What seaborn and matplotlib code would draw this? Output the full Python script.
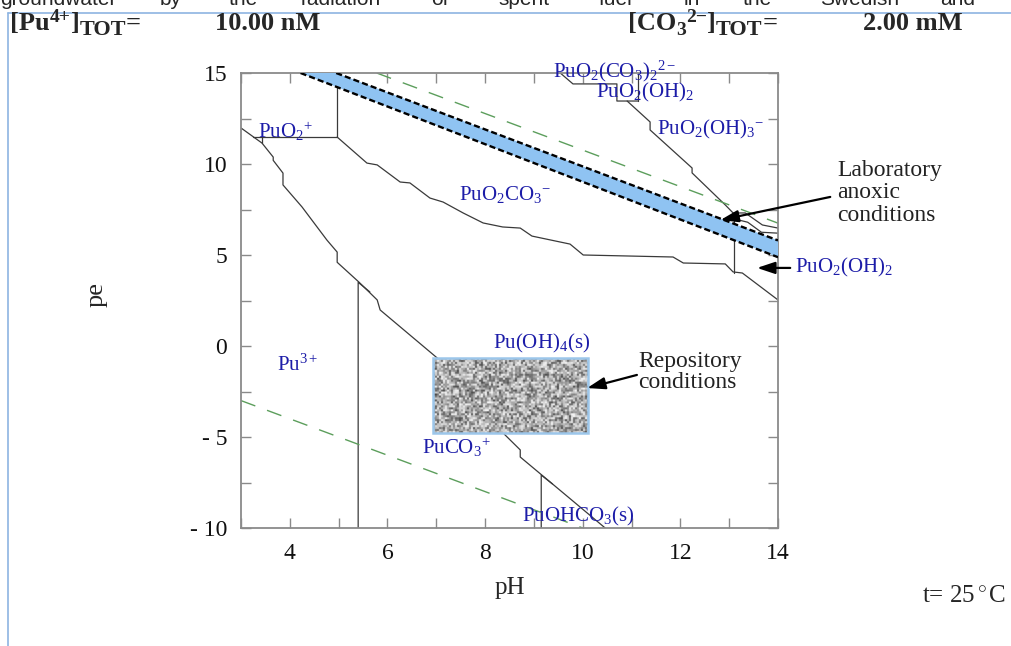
import numpy as np
import matplotlib
matplotlib.use("Agg")
import matplotlib.pyplot as plt
import seaborn as sns
from matplotlib.patches import Rectangle
from matplotlib.lines import Line2D
from matplotlib.ticker import FixedLocator

# ------------------------------------------------------------------ data
# predominance boundaries (pH, pe)
pu3_ph = [3.0, 3.43, 3.66, 3.66, 3.86, 3.86, 4.25, 4.76, 4.97, 4.97, 5.42, 5.79, 5.85, 7.02, 8.41, 8.72, 8.72, 10.46]
pu3_pe = [11.98, 11.15, 10.38, 10.2, 9.5, 8.85, 7.64, 5.82, 5.16, 4.6, 3.5, 2.53, 1.98, -0.66, -4.89, -5.71, -6.1, -10.0]

puo2p_ph = [3.25, 4.97, 4.97]
puo2p_pe = [11.48, 11.48, 15.0]
puo2p_tick_ph = [3.43, 3.43]
puo2p_tick_pe = [11.48, 11.15]

carb_ph = [4.97, 5.58, 5.79, 6.26, 6.46, 6.87, 7.14, 7.55, 7.96, 8.36, 8.72, 8.96, 9.74, 10.01,
           11.85, 12.06, 12.92, 13.08, 13.27, 14.0]
carb_pe = [11.48, 10.05, 9.95, 9.01, 8.96, 8.13, 7.91, 7.31, 6.76, 6.54, 6.48, 6.04, 5.6, 5.0,
           4.89, 4.56, 4.51, 4.07, 4.01, 2.53]

dicarb_ph = [9.54, 9.80, 10.70, 10.70, 11.14]
dicarb_pe = [15.0, 14.4, 14.4, 13.46, 13.46]
hyd2_ph = [11.14, 11.14]
hyd2_pe = [15.0, 13.46]
hyd3_ph = [10.91, 11.38, 11.38, 12.24, 12.24, 12.92, 13.08, 13.33, 13.68, 14.0]
hyd3_pe = [13.46, 12.31, 11.87, 9.78, 9.51, 7.75, 7.31, 7.31, 6.65, 6.48]
hyd3b_ph = [13.08, 13.38, 13.66, 14.0]
hyd3b_pe = [7.0, 6.8, 6.25, 6.2]
vert13_ph = [13.1, 13.1]
vert13_pe = [7.31, 4.01]

pu3c_ph = [5.40, 5.40, 5.64]
pu3c_pe = [-10.0, 3.5, 2.97]
puoh_ph = [9.15, 9.15, 9.38]
puoh_pe = [-10.0, -7.09, -7.58]

# water stability limits
o2_ph = [5.78, 14.0]
o2_pe = [15.0, 6.75]
h2_ph = [3.0, 10.0]
h2_pe = [-3.0, -10.0]

# laboratory anoxic band
band_up_ph = [4.95, 14.0]
band_up_pe = [15.0, 5.8]
band_lo_ph = [4.22, 14.0]
band_lo_pe = [15.0, 4.88]

# repository conditions box
repo_ph = [6.93, 10.11]
repo_pe = [-4.78, -0.66]

species = [r"PuO$_2$$^{+}$", r"PuO$_2$CO$_3$$^{-}$", r"PuO$_2$(CO$_3$)$_2$$^{2-}$", r"PuO$_2$(OH)$_2$",
           r"PuO$_2$(OH)$_3$$^{-}$", r"Pu(OH)$_4$(s)", r"Pu$^{3+}$", r"PuCO$_3$$^{+}$", r"PuOHCO$_3$(s)"]
species_ph = [3.90, 8.41, 10.66, 11.28, 12.61, 9.15, 4.15, 7.41, 9.91]
species_pe = [11.8, 8.3, 15.08, 13.92, 11.87, 0.16, -1.04, -5.6, -9.34]

x_ticks = [4, 6, 8, 10, 12, 14]
x_ticklabels = ["4", "6", "8", "10", "12", "14"]
y_ticks = [15, 10, 5, 0, -5, -10]
y_ticklabels = ["15", "10", "5", "0", "- 5", "- 10"]

header_words = ["groundwater", "by", "the", "radiation", "of", "spent", "fuel", "in", "the", "Swedish", "and"]
header_x = [0, 160, 229, 301, 431, 498, 599, 684, 743, 820, 940]

# ------------------------------------------------------------------ style
sns.set_theme(style="white")
plt.rcParams["font.family"] = ["Liberation Serif", "DejaVu Serif"]
plt.rcParams["mathtext.fontset"] = "custom"
plt.rcParams["mathtext.rm"] = "Liberation Serif"
plt.rcParams["mathtext.it"] = "Liberation Serif:italic"
plt.rcParams["mathtext.bf"] = "Liberation Serif:bold"

W, H = 1011, 646
fig = plt.figure(figsize=(W / 100, H / 100), dpi=100)
fig.patch.set_facecolor("white")
renderer = fig.canvas.get_renderer()

def fx(px):
    return px / W

def fy(py):
    return 1 - py / H

ax = fig.add_axes([fx(241), fy(528), fx(778) - fx(241), fy(73) - fy(528)])
ax.set_facecolor("white")

line_col = "#3a3a3a"
def boundary(xs, ys, **kw):
    sns.lineplot(x=xs, y=ys, sort=False, estimator=None, ax=ax, legend=False, **kw)

for xs, ys in [(pu3_ph, pu3_pe), (puo2p_ph, puo2p_pe), (puo2p_tick_ph, puo2p_tick_pe),
               (carb_ph, carb_pe), (dicarb_ph, dicarb_pe), (hyd2_ph, hyd2_pe), (hyd3_ph, hyd3_pe),
               (hyd3b_ph, hyd3b_pe), (vert13_ph, vert13_pe), (pu3c_ph, pu3c_pe), (puoh_ph, puoh_pe)]:
    boundary(xs, ys, color=line_col, linewidth=0.9, zorder=2)

green = "#5c9e5c"
boundary(o2_ph, o2_pe, color=green, linewidth=1.0, linestyle=(0, (11, 9)), zorder=2)
boundary(h2_ph, h2_pe, color=green, linewidth=1.0, linestyle=(0, (11, 9)), zorder=2)

# band
ax.fill([band_lo_ph[0], band_up_ph[0], band_up_ph[1], band_lo_ph[1]],
        [band_lo_pe[0], band_up_pe[0], band_up_pe[1], band_lo_pe[1]],
        color="#8fc3f2", zorder=3, linewidth=0)
boundary(band_up_ph, band_up_pe, color="black", linewidth=1.7, linestyle=(0, (2.6, 1.3)), zorder=4)
boundary(band_lo_ph, band_lo_pe, color="black", linewidth=1.7, linestyle=(0, (2.6, 1.3)), zorder=4)

# repository texture box (decorative grain)
ny, nx = 38, 78
ii, jj = np.mgrid[0:ny, 0:nx]
k = (ii * nx + jj).astype(np.uint64) + np.uint64(12345)
k = (k * np.uint64(2654435761)) % np.uint64(2 ** 32)
k ^= k >> np.uint64(13)
k = (k * np.uint64(0x5BD1E995)) % np.uint64(2 ** 32)
k ^= k >> np.uint64(15)
tex = (k % np.uint64(1000)).astype(float) / 1000.0
tex = 0.30 + 0.66 * tex ** 0.8
ax.imshow(tex, cmap="gray", vmin=0, vmax=1, extent=[repo_ph[0], repo_ph[1], repo_pe[0], repo_pe[1]],
          aspect="auto", interpolation="antialiased", zorder=5)
ax.add_patch(Rectangle((repo_ph[0], repo_pe[0]), repo_ph[1] - repo_ph[0], repo_pe[1] - repo_pe[0],
                       fill=False, edgecolor="#9cc6ea", linewidth=1.8, zorder=6))

# species labels
blue = "#1c1ca8"
for s, x, y in zip(species, species_ph, species_pe):
    ax.text(x, y, s, color=blue, fontsize=15, ha="center", va="center", zorder=7, clip_on=False)
ax.text(14.35, 4.29, r"PuO$_2$(OH)$_2$", color=blue, fontsize=15, ha="left", va="center", clip_on=False)

# annotations
arrow = dict(arrowstyle="-|>,head_length=0.9,head_width=0.3", color="black", lw=1.6, shrinkA=0, shrinkB=0)
ax.annotate("", xy=(12.82, 6.92), xytext=(15.07, 8.19), arrowprops=arrow, annotation_clip=False, zorder=8)
ax.annotate("", xy=(10.09, -2.31), xytext=(11.11, -1.59), arrowprops=arrow, annotation_clip=False, zorder=8)
ax.annotate("", xy=(13.57, 4.29), xytext=(14.25, 4.29), arrowprops=arrow, annotation_clip=False, zorder=8)
fig.text(fx(837), fy(193), "Laboratory\nanoxic\nconditions", fontsize=17, ha="left", va="center",
         linespacing=1.12, color="#222222")
fig.text(fx(638), fy(372), "Repository\nconditions", fontsize=17, ha="left", va="center",
         linespacing=1.0, color="#222222")

# axes
ax.set_xlim(3, 14)
ax.set_ylim(-10, 15)
ax.xaxis.set_major_locator(FixedLocator(x_ticks))
ax.xaxis.set_minor_locator(FixedLocator(list(range(3, 15))))
ax.yaxis.set_major_locator(FixedLocator(y_ticks))
ax.yaxis.set_minor_locator(FixedLocator([12.5, 7.5, 2.5, -2.5, -7.5]))
ax.set_xticklabels(x_ticklabels)
ax.set_yticklabels(y_ticklabels)
for which in ("major", "minor"):
    ax.tick_params(axis="both", which=which, direction="in", length=7, width=1.0, color="#8a8a8a",
                   top=True, right=True, bottom=True, left=True)
ax.tick_params(axis="x", which="major", pad=11, labelsize=17, labelcolor="#111111")
ax.tick_params(axis="y", which="major", pad=10, labelsize=17, labelcolor="#111111")
for sp in ax.spines.values():
    sp.set_color("#8a8a8a")
    sp.set_linewidth(1.3)
    sp.set_visible(True)
ax.grid(False)

fig.text(fx(510), fy(588), "pH", fontsize=18, ha="center", va="center")
fig.text(fx(97), fy(295), "pe", fontsize=19, ha="center", va="center", rotation=90)
fig.text(fx(922), fy(596), "t= 25$^\\circ$C", fontsize=18, ha="left", va="center")

# header (built from pieces so the subscript stays large as in the reference)
def seq_text(x0, base, pieces):
    x = x0
    for s, size, dy in pieces:
        t = fig.text(fx(x), fy(base - dy), s, fontsize=size, fontweight="bold", ha="left", va="baseline")
        x += t.get_window_extent(renderer).width
    return x

seq_text(10, 30, [("[Pu", 19, 0), ("4+", 14, 8), ("]", 19, 0), ("TOT", 16, -5), ("=", 19, 0)])
fig.text(fx(320), fy(30), "10.00 nM", fontsize=19, fontweight="bold", ha="right", va="baseline")
seq_text(628, 30, [("[CO", 19, 0), ("3", 14, -5), ("2\u2212", 14, 8), ("]", 19, 0), ("TOT", 16, -5),
                   ("=", 19, 0)])
fig.text(fx(963), fy(30), "2.00 mM", fontsize=19, fontweight="bold", ha="right", va="baseline")

# clipped running text above the figure and text-box frame
for w, x in zip(header_words, header_x):
    fig.text(fx(x), fy(5), w, fontsize=15, ha="left", va="baseline", family="Liberation Sans")
frame = "#8db4e2"
fig.add_artist(Line2D([fx(8), fx(8)], [fy(13), 0], color=frame, linewidth=1.2))
fig.add_artist(Line2D([fx(8), 1], [fy(13), fy(13)], color=frame, linewidth=1.2))

fig.savefig("out.png", dpi=100, facecolor="white")
